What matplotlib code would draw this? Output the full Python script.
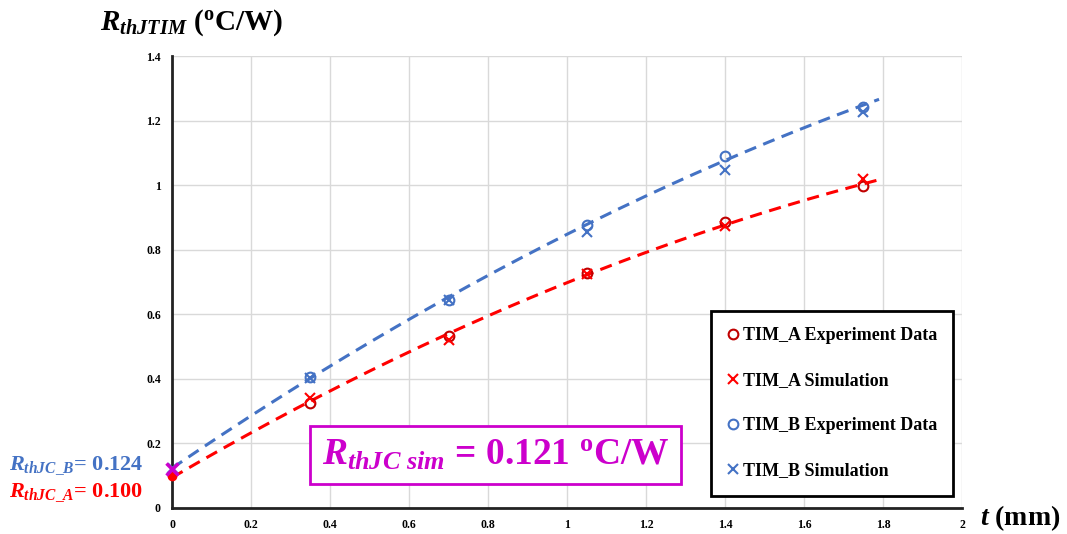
import numpy as np
import matplotlib
matplotlib.use("Agg")
import matplotlib.pyplot as plt

plt.rcParams['font.family'] = ['Liberation Serif', 'DejaVu Serif']
plt.rcParams['font.weight'] = 'bold'
plt.rcParams['mathtext.fontset'] = 'custom'
plt.rcParams['mathtext.rm'] = 'Liberation Serif:bold'
plt.rcParams['mathtext.bf'] = 'Liberation Serif:bold'
plt.rcParams['mathtext.it'] = 'Liberation Serif:italic:bold'

# Thickness of TIM (mm) and measured / simulated thermal resistance (°C/W)
thickness = [0.35, 0.70, 1.05, 1.40, 1.75]
tim_a_exp = [0.324, 0.533, 0.727, 0.887, 0.997]
tim_a_sim = [0.340, 0.520, 0.724, 0.873, 1.018]
tim_b_exp = [0.405, 0.645, 0.876, 1.089, 1.242]
tim_b_sim = [0.402, 0.645, 0.854, 1.048, 1.226]

# Junction-to-case resistance at zero thickness
rthjc_a = 0.100
rthjc_b = 0.124
rthjc_sim = 0.121

x_ticks = [0, 0.2, 0.4, 0.6, 0.8, 1.0, 1.2, 1.4, 1.6, 1.8, 2.0]
x_tick_labels = ['0', '0.2', '0.4', '0.6', '0.8', '1', '1.2', '1.4', '1.6', '1.8', '2']
y_ticks = [0, 0.2, 0.4, 0.6, 0.8, 1.0, 1.2, 1.4]
y_tick_labels = ['0', '0.2', '0.4', '0.6', '0.8', '1', '1.2', '1.4']

RED = '#FF0000'
DARK_RED = '#C00000'
BLUE = '#4472C4'
MAGENTA = '#CC00CC'

fig = plt.figure(figsize=(10.67, 5.34), dpi=100)
ax = fig.add_axes([0.1612, 0.0487, 0.7404, 0.8464])

ax.set_xlim(0, 2)
ax.set_ylim(0, 1.4)
ax.set_xticks(x_ticks)
ax.set_xticklabels(x_tick_labels)
ax.set_yticks(y_ticks)
ax.set_yticklabels(y_tick_labels)
ax.tick_params(length=0, labelsize=8.5, pad=8)
for lab in ax.get_xticklabels() + ax.get_yticklabels():
    lab.set_fontweight('bold')
ax.grid(True, color='#D9D9D9', linewidth=1)
ax.set_axisbelow(True)
for side in ('top', 'right'):
    ax.spines[side].set_visible(False)
for side in ('left', 'bottom'):
    ax.spines[side].set_linewidth(2)
    ax.spines[side].set_color('#222222')

# Second-order trend lines through the experimental data incl. zero thickness
t_fit = np.r_[0.0, thickness]
xs = np.linspace(0, 1.79, 200)
ca = np.polyfit(t_fit, np.r_[rthjc_a, tim_a_exp], 2)
cb = np.polyfit(t_fit, np.r_[rthjc_b, tim_b_exp], 2)
ax.plot(xs, np.polyval(cb, xs), color=BLUE, lw=2.2, dashes=(4, 2.5), zorder=2)
ax.plot(xs, np.polyval(ca, xs), color=RED, lw=2.2, dashes=(4, 2.5), zorder=2)

ms = 7
ax.plot(thickness, tim_a_exp, 'o', mfc='none', mec=DARK_RED, mew=1.5, ms=ms,
        ls='none', label='TIM_A Experiment Data', zorder=3)
ax.plot(thickness, tim_a_sim, 'x', color=RED, mew=1.5, ms=ms,
        ls='none', label='TIM_A Simulation', zorder=3)
ax.plot(thickness, tim_b_exp, 'o', mfc='none', mec=BLUE, mew=1.5, ms=ms,
        ls='none', label='TIM_B Experiment Data', zorder=3)
ax.plot(thickness, tim_b_sim, 'x', color=BLUE, mew=1.5, ms=ms,
        ls='none', label='TIM_B Simulation', zorder=3)

# Zero-thickness points
ax.plot([0], [rthjc_b], 'x', color=BLUE, mew=2, ms=7, clip_on=False, zorder=4)
ax.plot([0], [rthjc_a], 'o', color=RED, ms=6, clip_on=False, zorder=4)
ax.plot([0], [rthjc_sim], 'x', color=MAGENTA, mew=2.5, ms=8, clip_on=False, zorder=5)

leg = ax.legend(loc='center', bbox_to_anchor=(0.684, 0.018, 0.303, 0.427),
                frameon=True, fancybox=False, edgecolor='black',
                prop={'family': 'Liberation Serif', 'weight': 'bold', 'size': 13},
                labelspacing=1.55, handlelength=0.6, handletextpad=0.25,
                borderpad=0.9, borderaxespad=0)
leg.get_frame().set_linewidth(2)
leg.get_frame().set_alpha(1)

# Axis titles
fig.text(0.094, 0.958, r'$R_{thJTIM}$ ($^{\mathrm{o}}$C/W)', fontsize=21,
         fontweight='bold', ha='left', va='center')
fig.text(0.918, 0.03, r'$t$ (mm)', fontsize=20, fontweight='bold',
         ha='left', va='center')

# Zero-thickness resistance annotations
fig.text(0.008, 0.128, r'$R_{thJC\_B}$= 0.124', fontsize=16, fontweight='bold',
         color=BLUE, ha='left', va='center')
fig.text(0.008, 0.077, r'$R_{thJC\_A}$= 0.100', fontsize=16, fontweight='bold',
         color=RED, ha='left', va='center')

ax.text(0.4644, 0.148, r'$R_{thJC\ sim}$ = 0.121 $^{\mathrm{o}}$C/W', transform=fig.transFigure,
        fontsize=27, fontweight='bold', color=MAGENTA, ha='center', va='center',
        bbox=dict(boxstyle='square,pad=0.3', fc='white', ec=MAGENTA, lw=2), zorder=6)

fig.savefig('out.png', dpi=100)
